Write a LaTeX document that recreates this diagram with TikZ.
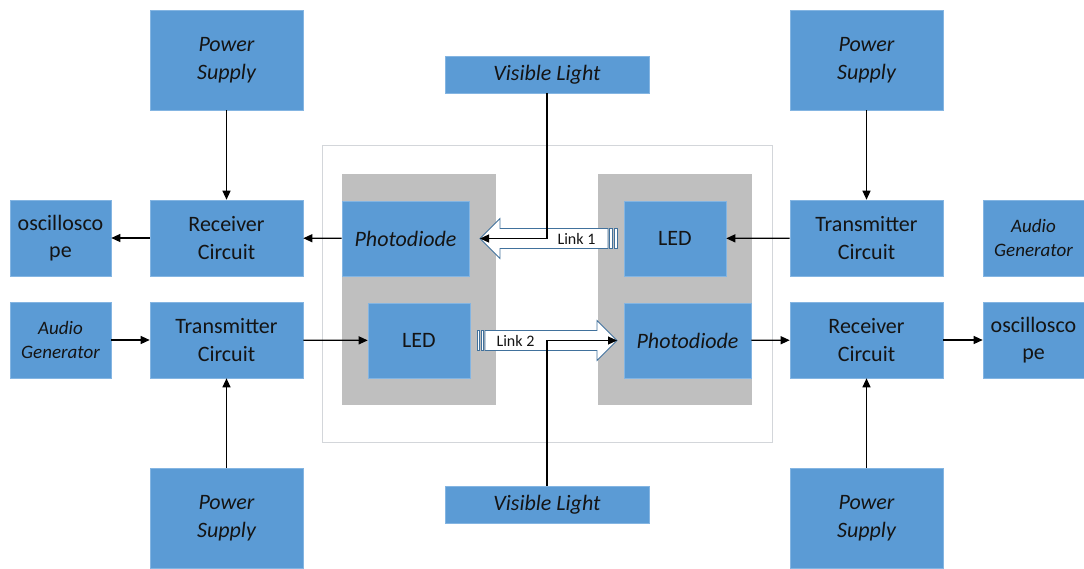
\documentclass[tikz,border=0pt]{standalone}
\usepackage{fontspec}
\setmainfont{Carlito}
\usetikzlibrary{arrows.meta,positioning}

\definecolor{boxblue}{HTML}{5B9BD5}
\definecolor{boxline}{HTML}{84B5E2}
\definecolor{holder}{HTML}{BFBFBF}
\definecolor{framegray}{HTML}{D3D6DA}
\definecolor{linkline}{HTML}{41719C}

\begin{document}
\begin{tikzpicture}[x=1pt, y=-1pt,
  every node/.style={font=\fontsize{22}{27.5}\selectfont, text=black!92},
  blk/.style={draw=boxline, line width=0.6pt, fill=boxblue, align=center, inner sep=1pt},
  wide/.style={blk, minimum width=153pt, minimum height=76pt},
  tall/.style={blk, minimum width=153pt, minimum height=100pt, font=\fontsize{22}{27.5}\selectfont\itshape},
  small/.style={blk, minimum width=101pt, minimum height=76pt},
  gen/.style={small, font=\fontsize{19}{24}\selectfont\itshape},
  light/.style={blk, minimum width=204pt, minimum height=37pt, font=\fontsize{22}{27.5}\selectfont\itshape},
  optic/.style={blk, minimum height=75pt},
  conn/.style={line width=1.2pt, -{Triangle[length=9pt,width=8pt]}},
  linkarrow/.style={draw=linkline, line width=0.8pt, fill=white},
  linklabel/.style={font=\fontsize{16}{18}\selectfont, inner sep=0pt}
]
  \useasboundingbox (0,0) rectangle (1084,568);

  %% Frame and holders
  \draw[framegray, line width=1pt] (322,145) rectangle (772,442);
  \fill[holder] (342,174) rectangle (496,405);
  \fill[holder] (598,174) rectangle (752,405);

  %% Power supplies
  \node[tall] (psTL) at (226.5,60) {Power\\Supply};
  \node[tall] (psTR) at (866.5,60) {Power\\Supply};
  \node[tall] (psBL) at (226.5,518) {Power\\Supply};
  \node[tall] (psBR) at (866.5,518) {Power\\Supply};

  %% Visible light sources
  \node[light] (vlT) at (547,74.5) {Visible Light};
  \node[light] (vlB) at (547,504.5) {Visible Light};

  %% Left side
  \node[small] (oscL) at (60.5,238) {oscillosco\\pe};
  \node[wide] (rxL) at (226.5,238) {Receiver\\Circuit};
  \node[gen] (agL) at (60.5,340) {Audio\\Generator};
  \node[wide] (txL) at (226.5,340) {Transmitter\\Circuit};

  %% Right side
  \node[wide] (txR) at (866.5,238) {Transmitter\\Circuit};
  \node[gen] (agR) at (1033.5,238) {Audio\\Generator};
  \node[wide] (rxR) at (866.5,340) {Receiver\\Circuit};
  \node[small] (oscR) at (1033.5,340) {oscillosco\\pe};

  %% Optical parts
  \node[optic, minimum width=127pt, font=\fontsize{22}{27.5}\selectfont\itshape] (pdL) at (405.5,238.5) {Photodiode};
  \node[optic, minimum width=102pt] (ledL) at (419,340.5) {LED};
  \node[optic, minimum width=102pt] (ledR) at (675,238.5) {LED};
  \node[optic, minimum width=127pt, font=\fontsize{22}{27.5}\selectfont\itshape] (pdR) at (687.5,340.5) {Photodiode};

  %% Link arrows
  \coordinate (tipA) at (480,238.5);
  \coordinate (tipB) at (617,340.5);
  \draw[linkarrow] (tipA) -- (500,218.5) -- (500,228.5) -- (608,228.5)
    -- (608,248.5) -- (500,248.5) -- (500,258.5) -- cycle;
  \draw[linkarrow] (609.5,228.5) rectangle (612.5,248.5);
  \draw[linkarrow] (614,228.5) rectangle (617.5,248.5);
  \draw[linkarrow] (tipB) -- (597,360.5) -- (597,350.5) -- (485,350.5)
    -- (485,330.5) -- (597,330.5) -- (597,320.5) -- cycle;
  \draw[linkarrow] (477,330.5) rectangle (479.5,350.5);
  \draw[linkarrow] (481,330.5) rectangle (483.5,350.5);
  \node[linklabel] (linkA) at (576.5,239) {Link 1};
  \node[linklabel] (linkB) at (515.5,341) {Link 2};

  %% Connectors
  \draw[conn] (psTL) -- (rxL);
  \draw[conn] (rxL) -- (oscL);
  \draw[conn] (pdL) -- (rxL);
  \draw[conn] (agL) -- (txL);
  \draw[conn] (txL) -- (ledL);
  \draw[conn] (psBL) -- (txL);
  \draw[conn] (psTR) -- (txR);
  \draw[conn] (txR) -- (ledR);
  \draw[conn] (pdR) -- (rxR);
  \draw[conn] (rxR) -- (oscR);
  \draw[conn] (psBR) -- (rxR);
  \draw[conn] (vlT.south) |- (tipA);
  \draw[conn] (vlB.north) |- (tipB);
\end{tikzpicture}
\end{document}
